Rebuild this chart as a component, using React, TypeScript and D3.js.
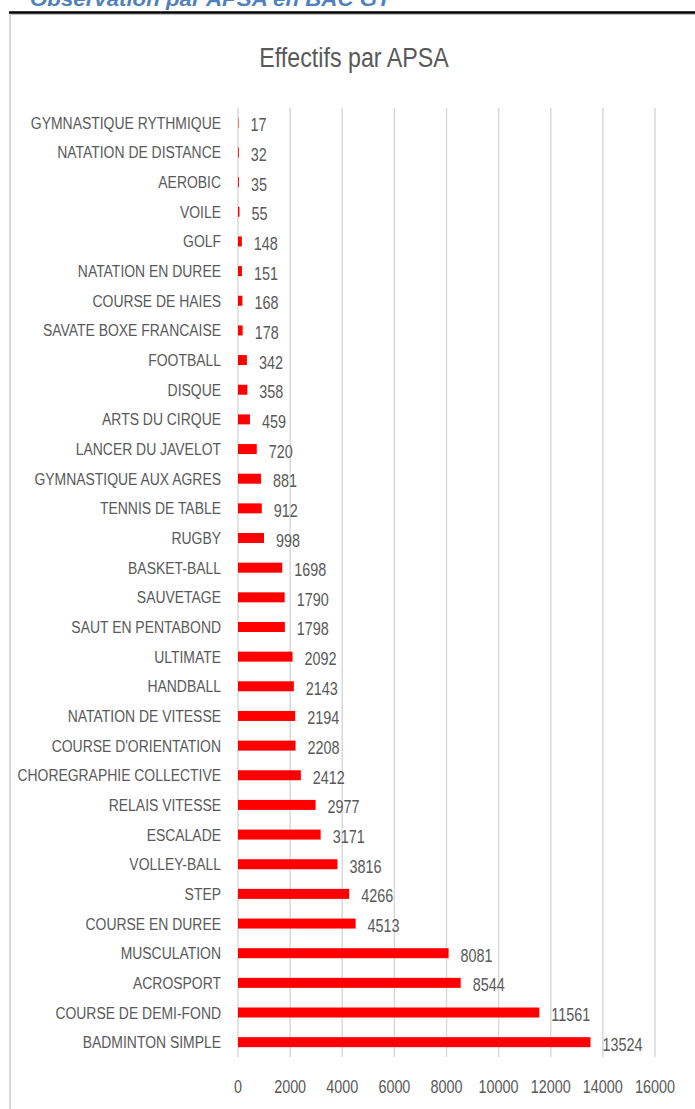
import React from "react";
import * as d3 from "d3";

const categories = [
  "GYMNASTIQUE RYTHMIQUE", "NATATION DE DISTANCE", "AEROBIC", "VOILE", "GOLF",
  "NATATION EN DUREE", "COURSE DE HAIES", "SAVATE BOXE FRANCAISE", "FOOTBALL", "DISQUE",
  "ARTS DU CIRQUE", "LANCER DU JAVELOT", "GYMNASTIQUE AUX AGRES", "TENNIS DE TABLE", "RUGBY",
  "BASKET-BALL", "SAUVETAGE", "SAUT EN PENTABOND", "ULTIMATE", "HANDBALL",
  "NATATION DE VITESSE", "COURSE D'ORIENTATION", "CHOREGRAPHIE COLLECTIVE", "RELAIS VITESSE", "ESCALADE",
  "VOLLEY-BALL", "STEP", "COURSE EN DUREE", "MUSCULATION", "ACROSPORT",
  "COURSE DE DEMI-FOND", "BADMINTON SIMPLE",
];
const values = [
  17, 32, 35, 55, 148, 151, 168, 178, 342, 358,
  459, 720, 881, 912, 998, 1698, 1790, 1798, 2092, 2143,
  2194, 2208, 2412, 2977, 3171, 3816, 4266, 4513, 8081, 8544,
  11561, 13524,
];
const xTicks = [0, 2000, 4000, 6000, 8000, 10000, 12000, 14000, 16000];

const W = 695;
const H = 1109;
const FONT = "'Liberation Sans', Arial, sans-serif";
const GRAY = "#595959";

export default function App() {
  const x = d3.scaleLinear().domain([0, 16000]).range([238, 655]);
  const y = d3.scaleBand<string>().domain(categories).range([108, 1057]).padding(0);
  const barH = 10;
  const sx = 0.83;

  return (
    <svg width={W} height={H} style={{ position: "absolute", left: 0, top: 0, display: "block" }}>
      <rect x={0} y={0} width={W} height={H} fill="#ffffff" />
      {/* cut-off page title */}
      <g transform="translate(30,5.5) scale(1.06,1)">
        <text x={0} y={0} fontFamily={FONT} fontSize={21} fontWeight="bold" fontStyle="italic" fill="#4F81BD">
          Observation par APSA en BAC GT
        </text>
      </g>
      <line x1={9} x2={W} y1={12.5} y2={12.5} stroke="#000" strokeWidth={2.5} />
      <line x1={9} x2={W} y1={14.5} y2={14.5} stroke="#bfbfbf" strokeWidth={1} />
      {/* chart frame left edge */}
      <line x1={10} x2={10} y1={14} y2={H} stroke="#d9d9d9" strokeWidth={2} />

      {/* chart title */}
      <g transform="translate(354,67) scale(0.83,1)">
        <text x={0} y={0} textAnchor="middle" fontFamily={FONT} fontSize={28} fill={GRAY}>
          Effectifs par APSA
        </text>
      </g>

      {/* gridlines */}
      {xTicks.map((t) => (
        <line key={"g" + t} x1={x(t)} x2={x(t)} y1={108} y2={1057} stroke="#d9d9d9" strokeWidth={1.5} />
      ))}

      {/* bars */}
      {categories.map((c, i) => {
        const cy = (y(c) as number) + y.bandwidth() / 2;
        return (
          <rect key={"b" + c} x={x(0)} y={cy - barH / 2} width={Math.max(0, x(values[i]) - x(0))} height={barH} fill="#ff0000" />
        );
      })}

      {/* category labels */}
      {categories.map((c) => {
        const cy = (y(c) as number) + y.bandwidth() / 2;
        return (
          <g key={"l" + c} transform={`translate(221,${cy + 6}) scale(${sx},1)`}>
            <text x={0} y={0} textAnchor="end" fontFamily={FONT} fontSize={16.8} fill={GRAY}>
              {c}
            </text>
          </g>
        );
      })}

      {/* data labels */}
      {categories.map((c, i) => {
        const cy = (y(c) as number) + y.bandwidth() / 2;
        return (
          <g key={"v" + c} transform={`translate(${x(values[i]) + 12},${cy + 8.5}) scale(0.8,1)`}>
            <text x={0} y={0} fontFamily={FONT} fontSize={18} fill={GRAY}>
              {values[i]}
            </text>
          </g>
        );
      })}

      {/* x tick labels */}
      {xTicks.map((t) => (
        <g key={"t" + t} transform={`translate(${x(t)},1093) scale(0.8,1)`}>
          <text x={0} y={0} textAnchor="middle" fontFamily={FONT} fontSize={18} fill={GRAY}>
            {t}
          </text>
        </g>
      ))}
    </svg>
  );
}
